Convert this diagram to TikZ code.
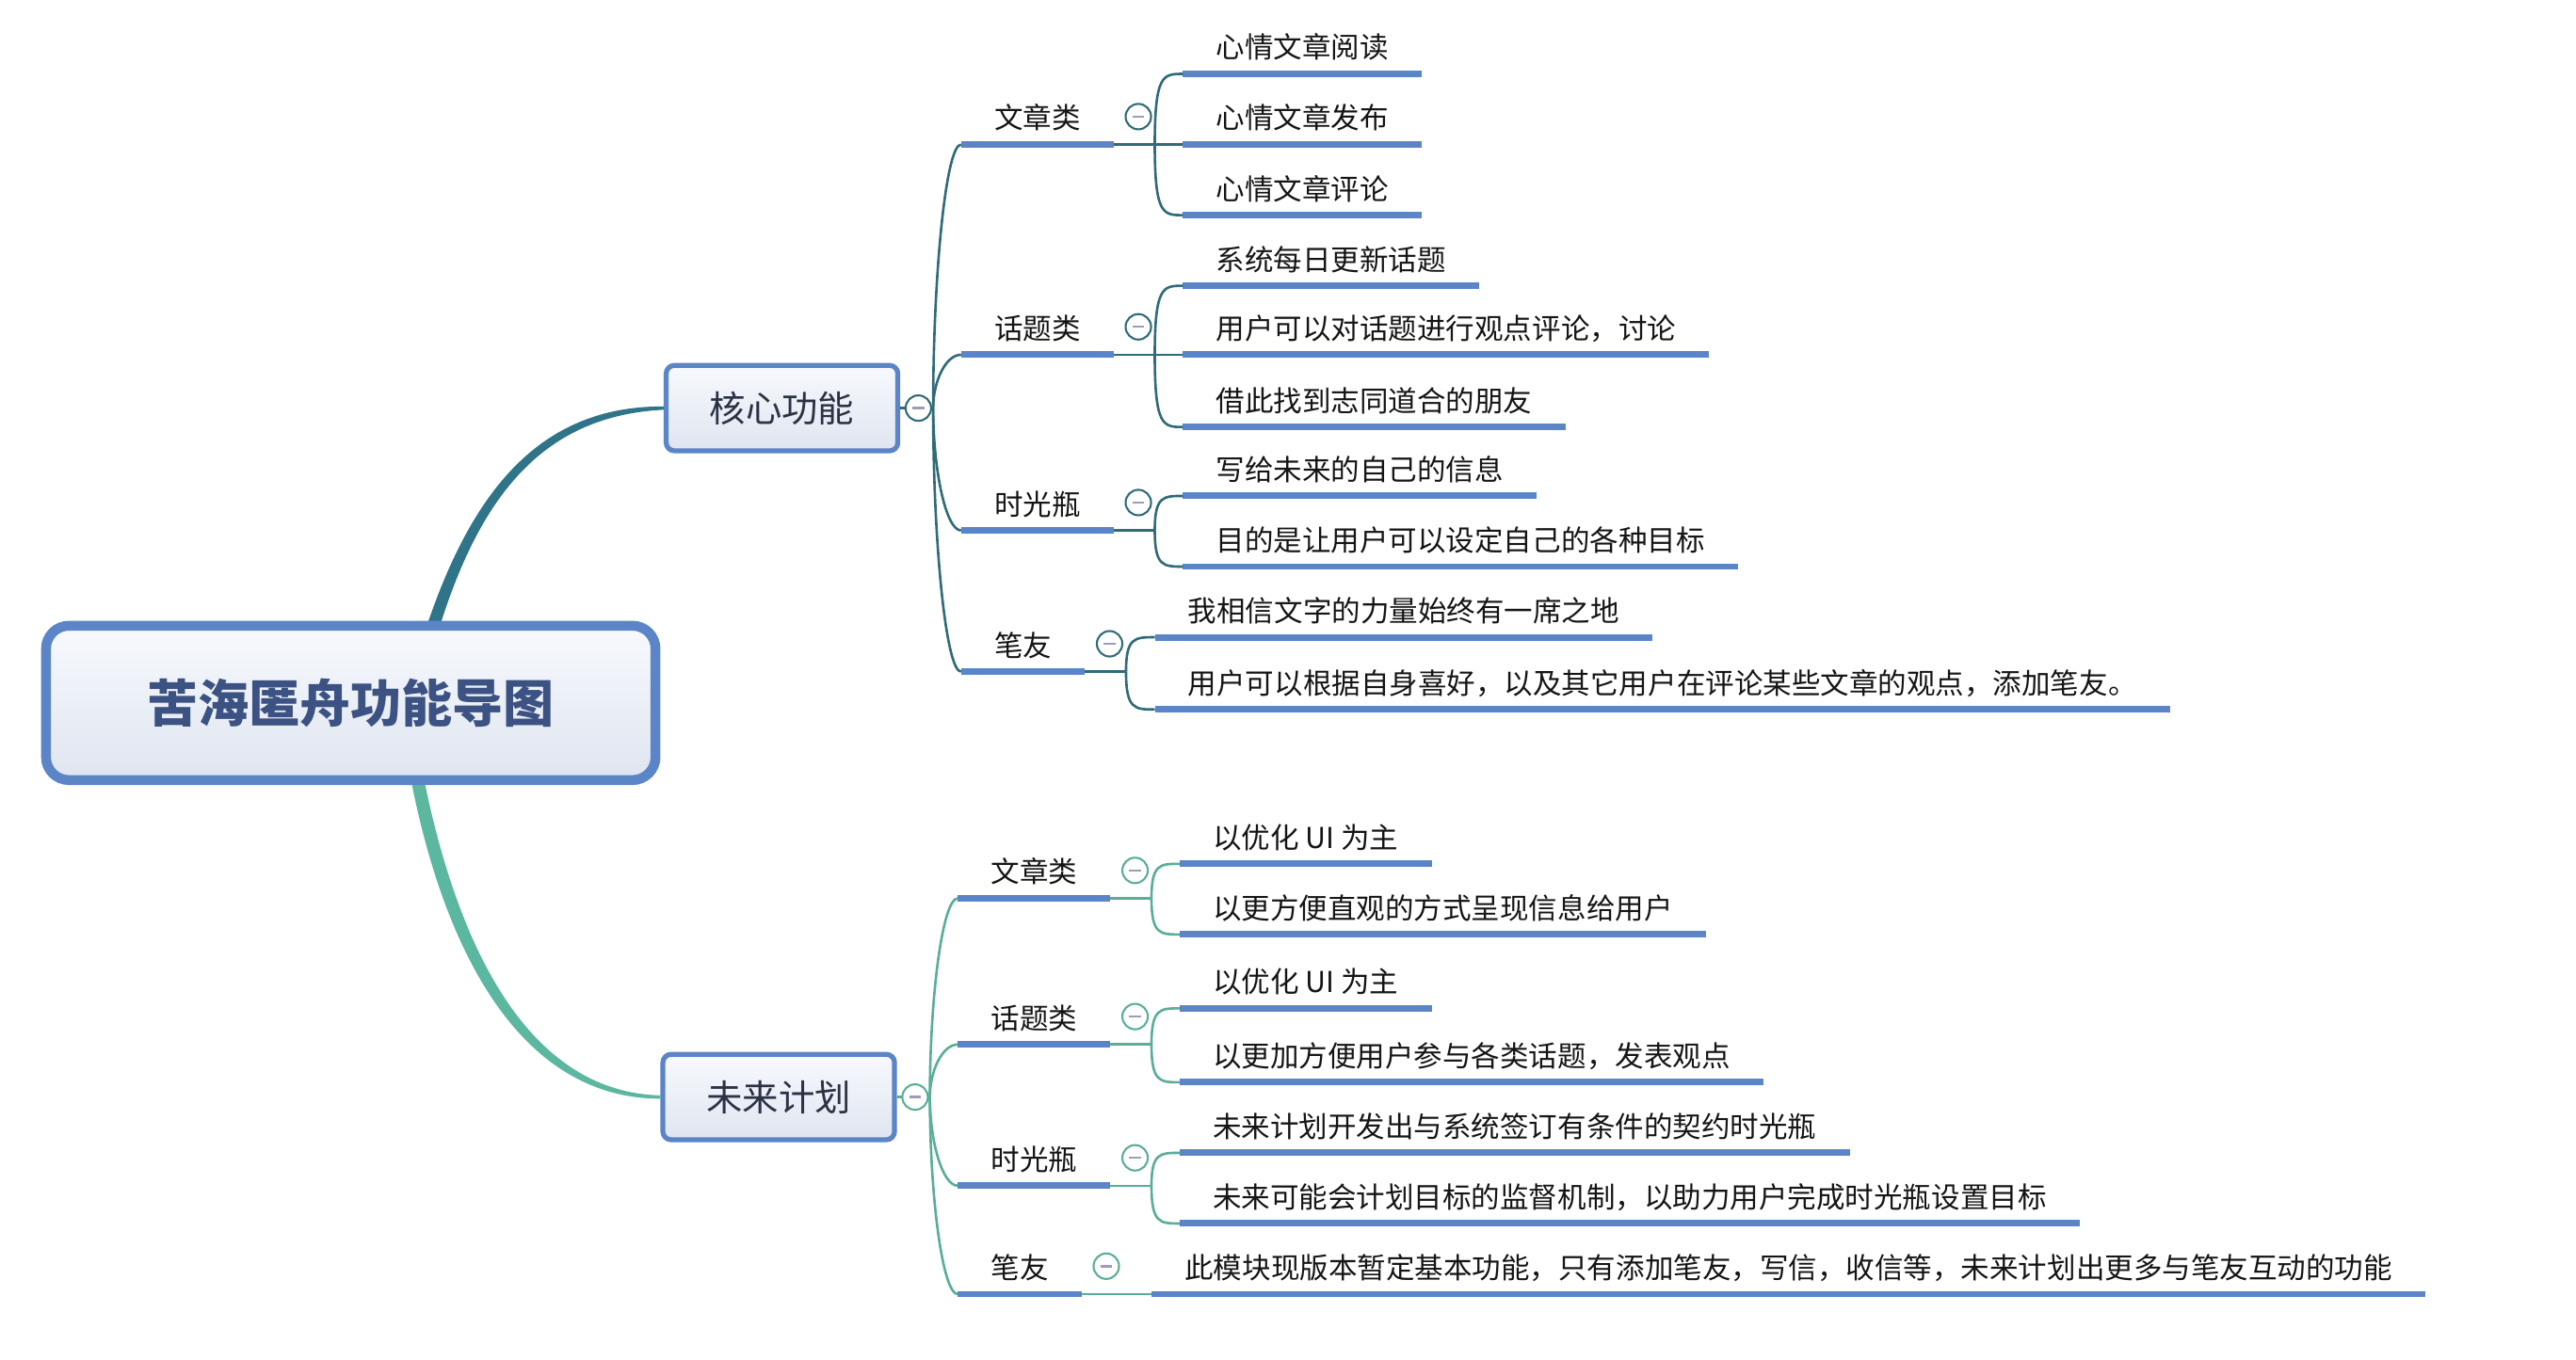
\documentclass[tikz,border=0pt]{standalone}
\usepackage{fontspec}
\newfontfamily\cjk{Noto Sans CJK SC}
\usetikzlibrary{calc,backgrounds}
\definecolor{dk}{HTML}{2F6B78}
\definecolor{lt}{HTML}{5AAE98}
\definecolor{ulc}{HTML}{5B85C6}
\definecolor{rootc}{HTML}{3C5283}
\definecolor{boxt}{HTML}{2A3244}
\definecolor{minusc}{HTML}{A09AB8}
\definecolor{topcon}{HTML}{2F7489}
\definecolor{botcon}{HTML}{5CB7A0}
\definecolor{txtc}{HTML}{151515}
\definecolor{boxtop}{HTML}{F7F9FD}
\definecolor{boxbot}{HTML}{DFE5F0}
\newcommand\leafnode[4]{%
  \node[txt, anchor=base west] (#1) at (#2, #3-9.5) {#4};
  \coordinate (#1-s) at ([yshift=-9.5pt]#1.base west);
  \coordinate (#1-e) at ([yshift=-9.5pt]#1.base east);
  \draw[ul] (#1-s) -- (#1-e);
}
\newcommand\curveto[3]{\draw[#1] (#2) .. controls (#2 |- #3) and ($(#2 |- #3)!0.3!(#3)$) .. (#3);}
\newcommand\trunkto[3]{\draw[#1] (#2) .. controls ($(#2)!0.5!(#2 |- #3)$) and ($(#2 |- #3)!0.45!(#3)$) .. (#3);}
\begin{document}
\begin{tikzpicture}[x=1pt,y=-1pt,
  txt/.style={font=\cjk\fontsize{17.5pt}{20pt}\selectfont, text=txtc, inner xsep=20pt, inner ysep=0pt},
  ul/.style={ulc, line width=4pt},
  brd/.style={dk, line width=1.5pt},
  brl/.style={lt, line width=1.5pt},
  circ/.style={circle, draw=#1, fill=white, line width=1.2pt, minimum size=15.5pt, inner sep=0pt,
    path picture={\draw[minusc, line width=1.4pt] ([xshift=-3.6pt]path picture bounding box.center) -- ([xshift=3.6pt]path picture bounding box.center);}},
  corebox/.style={draw=ulc, line width=3pt, rounded corners=5pt, top color=boxtop, bottom color=boxbot,
    minimum width=141pt, minimum height=52pt, inner sep=0pt, font=\cjk\fontsize{22pt}{26pt}\selectfont, text=boxt},
  rootbox/.style={draw=ulc, line width=6pt, rounded corners=14pt, top color=boxtop, bottom color=boxbot,
    minimum width=371pt, minimum height=94pt, inner sep=0pt, font=\cjk\bfseries\fontsize{31pt}{36pt}\selectfont, text=rootc}
]
\useasboundingbox (0,0) rectangle (1568,828);

\node[rootbox] (root) at (213.5,428) {苦海匿舟功能导图};
\node[corebox] (core) at (476,248.5) {核心功能};
\node[corebox] (fut) at (474,668) {未来计划};

\begin{scope}[on background layer]
\fill[white] (0,0) rectangle (1568,828);
% root connectors (tapered)
\fill[topcon] ($(root.north)+(46,4)$) .. controls ($(root.north)+(73.5,-78)$) and ($(core.west)+(-76,-1.5)$) .. ($(core.west)+(0,-1)$)
  -- ($(core.west)+(0,1)$) .. controls ($(core.west)+(-72,4.5)$) and ($(root.north)+(79.5,-78)$) .. ($(root.north)+(54,4)$) -- cycle;
\fill[botcon] ($(root.south)+(36.5,-4)$) .. controls ($(root.south)+(57.5,104)$) and ($(fut.west)+(-84,1)$) .. ($(fut.west)+(0,1)$)
  -- ($(fut.west)+(0,-1)$) .. controls ($(fut.west)+(-80,-3)$) and ($(root.south)+(65.5,100)$) .. ($(root.south)+(44.5,-4)$) -- cycle;
\end{scope}

% ---------- core branch ----------
\leafnode{sA}{585}{88}{文章类}
\leafnode{sB}{585}{216}{话题类}
\leafnode{sC}{585}{323}{时光瓶}
\leafnode{sD}{585}{409}{笔友}

\leafnode{A1}{720}{45}{心情文章阅读}
\leafnode{A2}{720}{88}{心情文章发布}
\leafnode{A3}{720}{131}{心情文章评论}
\leafnode{B1}{720}{174}{系统每日更新话题}
\leafnode{B2}{720}{216}{用户可以对话题进行观点评论，讨论}
\leafnode{B3}{720}{260}{借此找到志同道合的朋友}
\leafnode{C1}{720}{302}{写给未来的自己的信息}
\leafnode{C2}{720}{345}{目的是让用户可以设定自己的各种目标}
\leafnode{D1}{703}{388}{我相信文字的力量始终有一席之地}
\leafnode{D2}{703}{432}{用户可以根据自身喜好，以及其它用户在评论某些文章的观点，添加笔友。}

\coordinate (cj) at ([xshift=20pt]core.east);
\draw[brd] (core.east) -- (cj);
\trunkto{brd}{cj}{sA-s}
\trunkto{brd}{cj}{sB-s}
\trunkto{brd}{cj}{sC-s}
\trunkto{brd}{cj}{sD-s}

\coordinate (jA) at ([xshift=25pt]sA-e);
\coordinate (jB) at ([xshift=25pt]sB-e);
\coordinate (jC) at ([xshift=25pt]sC-e);
\coordinate (jD) at ([xshift=25pt]sD-e);
\draw[brd] (sA-e) -- (jA);
\draw[brd] (sB-e) -- (jB);
\draw[brd] (sC-e) -- (jC);
\draw[brd] (sD-e) -- (jD);
\curveto{brd}{jA}{A1-s}
\curveto{brd}{jA}{A2-s}
\curveto{brd}{jA}{A3-s}
\curveto{brd}{jB}{B1-s}
\curveto{brd}{jB}{B2-s}
\curveto{brd}{jB}{B3-s}
\curveto{brd}{jC}{C1-s}
\curveto{brd}{jC}{C2-s}
\curveto{brd}{jD}{D1-s}
\curveto{brd}{jD}{D2-s}

\node[circ=dk] (ccore) at ([xshift=11pt]core.east) {};
\node[circ=dk] (cA) at ([xshift=15pt,yshift=17pt]sA-e) {};
\node[circ=dk] (cB) at ([xshift=15pt,yshift=17pt]sB-e) {};
\node[circ=dk] (cC) at ([xshift=15pt,yshift=17pt]sC-e) {};
\node[circ=dk] (cD) at ([xshift=15pt,yshift=17pt]sD-e) {};

% ---------- future branch ----------
\leafnode{fA}{583}{547}{文章类}
\leafnode{fB}{583}{636}{话题类}
\leafnode{fC}{583}{722}{时光瓶}
\leafnode{fD}{583}{788}{笔友}

\leafnode{fA1}{718}{526}{以优化 UI 为主}
\leafnode{fA2}{718}{569}{以更方便直观的方式呈现信息给用户}
\leafnode{fB1}{718}{614}{以优化 UI 为主}
\leafnode{fB2}{718}{659}{以更加方便用户参与各类话题，发表观点}
\leafnode{fC1}{718}{702}{未来计划开发出与系统签订有条件的契约时光瓶}
\leafnode{fC2}{718}{745}{未来可能会计划目标的监督机制，以助力用户完成时光瓶设置目标}
\leafnode{fD1}{701}{788}{此模块现版本暂定基本功能，只有添加笔友，写信，收信等，未来计划出更多与笔友互动的功能}

\coordinate (fj) at ([xshift=20pt]fut.east);
\draw[brl] (fut.east) -- (fj);
\trunkto{brl}{fj}{fA-s}
\trunkto{brl}{fj}{fB-s}
\trunkto{brl}{fj}{fC-s}
\trunkto{brl}{fj}{fD-s}

\coordinate (fjA) at ([xshift=25pt]fA-e);
\coordinate (fjB) at ([xshift=25pt]fB-e);
\coordinate (fjC) at ([xshift=25pt]fC-e);
\coordinate (fjD) at ([xshift=25pt]fD-e);
\draw[brl] (fA-e) -- (fjA);
\draw[brl] (fB-e) -- (fjB);
\draw[brl] (fC-e) -- (fjC);
\draw[brl] (fD-e) -- (fjD);
\curveto{brl}{fjA}{fA1-s}
\curveto{brl}{fjA}{fA2-s}
\curveto{brl}{fjB}{fB1-s}
\curveto{brl}{fjB}{fB2-s}
\curveto{brl}{fjC}{fC1-s}
\curveto{brl}{fjC}{fC2-s}
\curveto{brl}{fjD}{fD1-s}

\node[circ=lt] (cfut) at ([xshift=11pt]fut.east) {};
\node[circ=lt] (cfA) at ([xshift=15pt,yshift=17pt]fA-e) {};
\node[circ=lt] (cfB) at ([xshift=15pt,yshift=17pt]fB-e) {};
\node[circ=lt] (cfC) at ([xshift=15pt,yshift=17pt]fC-e) {};
\node[circ=lt] (cfD) at ([xshift=15pt,yshift=17pt]fD-e) {};
\end{tikzpicture}
\end{document}
